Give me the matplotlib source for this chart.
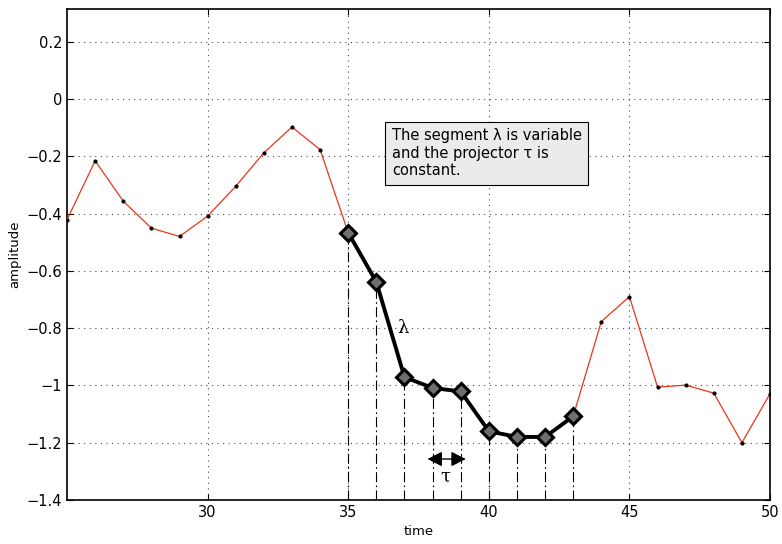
import numpy as np
import matplotlib.pyplot as plt

# signal samples
time = np.arange(25, 51)
amplitude = [-0.422, -0.216, -0.357, -0.451, -0.480, -0.409, -0.305, -0.188,
             -0.098, -0.177, -0.467, -0.639, -0.971, -1.009, -1.021, -1.160,
             -1.180, -1.180, -1.108, -0.777, -0.690, -1.006, -0.999, -1.027,
             -1.200, -1.029]
seg_start, seg_end = 35, 43
x_ticks = [30, 35, 40, 45, 50]
y_ticks = [-1.4, -1.2, -1, -0.8, -0.6, -0.4, -0.2, 0, 0.2]

time = np.array(time)
amplitude = np.array(amplitude)
seg = (time >= seg_start) & (time <= seg_end)

fig = plt.figure(figsize=(7.82, 5.44), dpi=100)
ax = fig.add_axes([0.0857, 0.0809, 0.899, 0.9026])

ax.plot(time, amplitude, color='#e8351a', lw=0.9, marker='.', ms=4,
        mfc='k', mec='k', zorder=3)

# projection lines from the segment down to the axis
for t, a in zip(time[seg], amplitude[seg]):
    ax.plot([t, t], [-1.4, a], color='k', ls=(0, (9, 3, 1.5, 3)), lw=0.8, zorder=2)

ax.plot(time[seg], amplitude[seg], color='k', lw=2.8, marker='D', ms=8,
        mfc='#6e6e6e', mec='k', mew=2.2, zorder=4)

ax.annotate('', xy=(37.82, -1.257), xytext=(39.18, -1.257),
            arrowprops=dict(arrowstyle='<|-|>,head_length=0.55,head_width=0.28',
                            color='k', lw=1.0, mutation_scale=16,
                            shrinkA=0, shrinkB=0))
ax.text(38.45, -1.32, '\u03c4', fontsize=13, family='DejaVu Serif',
        ha='center', va='center')
ax.text(36.95, -0.80, '\u03bb', fontsize=13, family='DejaVu Serif',
        ha='center', va='center')

ax.text(36.55, -0.19, 'The segment \u03bb is variable\nand the projector \u03c4 is\nconstant.',
        fontsize=10.5, ha='left', va='center', linespacing=1.2,
        bbox=dict(boxstyle='square,pad=0.45', fc='#ebebeb', ec='k', lw=0.8))

ax.set_xlim(25, 50)
ax.set_ylim(-1.4, 0.314)
ax.set_xticks(x_ticks)
ax.set_yticks(y_ticks)
ax.set_yticklabels(['\u22121.4', '\u22121.2', '\u22121', '\u22120.8', '\u22120.6',
                    '\u22120.4', '\u22120.2', '0', '0.2'])
ax.tick_params(direction='in', top=True, right=True, labelsize=10.5, length=4)
ax.grid(True, ls=(0, (1, 4)), color='k', lw=0.8, alpha=0.7)
for s in ax.spines.values():
    s.set_linewidth(1.2)

ax.set_xlabel('time', fontsize=9.5, labelpad=4)
ax.set_ylabel('amplitude', fontsize=9.5, labelpad=4)

fig.savefig('out.png', dpi=100)
